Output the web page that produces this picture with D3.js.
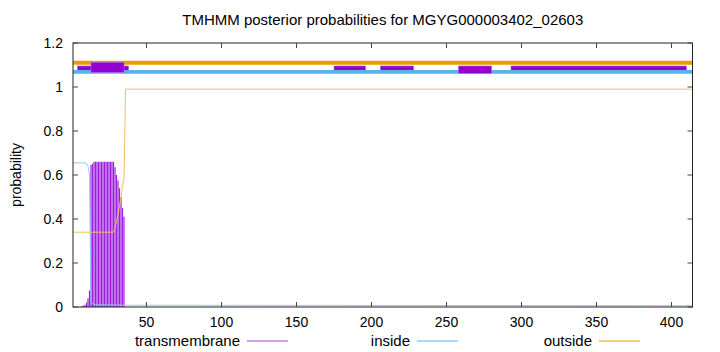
<!DOCTYPE html>
<html>
<head>
<meta charset="utf-8">
<script src="https://cdn.jsdelivr.net/npm/d3@7"></script>
<style>
  body { margin: 0; background: #fff; }
  text { font-family: "Liberation Sans", Arial, sans-serif; fill: #000; }
</style>
</head>
<body>
<svg id="chart" width="720" height="352"></svg>
<script>
// sequence length and axis ticks
var seqStart = 1, seqEnd = 414
var xTicks = [50, 100, 150, 200, 250, 300, 350, 400]
var yTicks = [0, 0.2, 0.4, 0.6, 0.8, 1, 1.2]

// posterior probabilities (residue, value)
var insidePts = [[1,0.655],[9,0.655],[10,0.652],[11,0.64],[12,0.6],[13,0.02],[14,0.016],[16,0.01],[40,0.008],[414,0.006]]
var outsidePts = [[1,0.34],[28,0.34],[29,0.36],[30,0.39],[31,0.42],[32,0.46],[33,0.5],[34,0.55],[35,0.585],[36,0.99],[414,0.99]]

// transmembrane probability per residue, from residue 7
var tmFirst = 7
var tmValues = [0.003,0.006,0.01,0.02,0.04,0.075,0.645,0.65,0.66,0.66,0.66,0.66,0.66,0.66,0.66,0.66,0.66,0.66,0.66,0.66,0.66,0.66,0.635,0.6,0.575,0.54,0.5,0.45,0.41]

// predicted topology strip at the top
var outsideSegs = [[1,414]]
var insideSegs = [[1,414]]
var tmBoxes = [[4,38],[175,196],[206,228],[293,410]]
var tmBoxesWide = [[258,280]]
var tmBoxesTall = [[13,35]]

var legendItems = [
  {label: "transmembrane", color: "#a040d8"},
  {label: "inside", color: "#56b4e9"},
  {label: "outside", color: "#e69f00"}
]

var margin = {top: 43, right: 27.5, bottom: 45, left: 73}
var width = 720 - margin.left - margin.right
var height = 352 - margin.top - margin.bottom

var svg = d3.select("#chart")
var g = svg.append("g").attr("transform", "translate(" + margin.left + "," + margin.top + ")")

var x = d3.scaleLinear().domain([seqStart, seqEnd]).range([0, width])
var y = d3.scaleLinear().domain([0, 1.2]).range([height, 0])

// title
svg.append("text")
  .attr("x", margin.left + width / 2)
  .attr("y", 25)
  .attr("text-anchor", "middle")
  .style("font-size", "15px")
  .text("TMHMM posterior probabilities for MGYG000003402_02603")

// y label
svg.append("text")
  .attr("transform", "translate(21," + (margin.top + height / 2) + ")rotate(-90)")
  .attr("text-anchor", "middle")
  .style("font-size", "14px")
  .text("probability")

// top strip
outsideSegs.forEach(function(s) {
  g.append("line")
    .attr("x1", x(s[0])).attr("x2", x(s[1]))
    .attr("y1", y(1.11)).attr("y2", y(1.11))
    .attr("stroke", "#e69f00").attr("stroke-width", 4)
})
tmBoxes.forEach(function(s) {
  g.append("rect")
    .attr("x", x(s[0])).attr("width", x(s[1]) - x(s[0]))
    .attr("y", y(1.0955)).attr("height", y(1.0727) - y(1.0955))
    .attr("fill", "#9400d3").attr("stroke", "#b060e0").attr("stroke-width", 0.6)
})
insideSegs.forEach(function(s) {
  g.append("line")
    .attr("x1", x(s[0])).attr("x2", x(s[1]))
    .attr("y1", y(1.069)).attr("y2", y(1.069))
    .attr("stroke", "#56b4e9").attr("stroke-width", 3.7)
})
tmBoxesWide.forEach(function(s) {
  g.append("rect")
    .attr("x", x(s[0])).attr("width", x(s[1]) - x(s[0]))
    .attr("y", y(1.0955)).attr("height", y(1.0623) - y(1.0955))
    .attr("fill", "#9400d3").attr("stroke", "#b060e0").attr("stroke-width", 0.6)
})
tmBoxesTall.forEach(function(s) {
  g.append("rect")
    .attr("x", x(s[0])).attr("width", x(s[1]) - x(s[0]))
    .attr("y", y(1.1123)).attr("height", y(1.0668) - y(1.1123))
    .attr("fill", "#9400d3").attr("stroke", "#b060e0").attr("stroke-width", 0.6)
})

// transmembrane impulses
g.selectAll(".tm")
  .data(tmValues)
  .enter()
  .append("line")
  .attr("class", "tm")
  .attr("x1", (d, i) => x(tmFirst + i))
  .attr("x2", (d, i) => x(tmFirst + i))
  .attr("y1", y(0))
  .attr("y2", d => y(d))
  .attr("stroke", "#9d1ee0")
  .attr("stroke-width", 1.2)

var line = d3.line().x(d => x(d[0])).y(d => y(d[1]))

g.append("path").datum(insidePts)
  .attr("d", line).attr("fill", "none")
  .attr("stroke", "#8fcdf0").attr("stroke-width", 1)

g.append("path").datum(outsidePts)
  .attr("d", line).attr("fill", "none")
  .attr("stroke", "#f0c060").attr("stroke-width", 1)

// border + ticks
g.append("rect")
  .attr("x", 0).attr("y", 0).attr("width", width).attr("height", height)
  .attr("fill", "none").attr("stroke", "#222").attr("stroke-width", 1)

xTicks.forEach(function(t) {
  g.append("line").attr("x1", x(t)).attr("x2", x(t)).attr("y1", height).attr("y2", height - 5).attr("stroke", "#444")
  g.append("line").attr("x1", x(t)).attr("x2", x(t)).attr("y1", 0).attr("y2", 5).attr("stroke", "#444")
  g.append("text")
    .attr("x", x(t)).attr("y", height + 20)
    .attr("text-anchor", "middle")
    .style("font-size", "14px")
    .text(t)
})
yTicks.forEach(function(t) {
  g.append("line").attr("x1", 0).attr("x2", 5).attr("y1", y(t)).attr("y2", y(t)).attr("stroke", "#444")
  g.append("line").attr("x1", width).attr("x2", width - 5).attr("y1", y(t)).attr("y2", y(t)).attr("stroke", "#444")
  g.append("text")
    .attr("x", -10).attr("y", y(t) + 5)
    .attr("text-anchor", "end")
    .style("font-size", "14px")
    .text(t)
})

// legend
var legendX = [240, 410, 592]
legendItems.forEach(function(d, i) {
  var lg = svg.append("g").attr("transform", "translate(" + legendX[i] + ",341)")
  lg.append("text").attr("x", 0).attr("y", 5).attr("text-anchor", "end").style("font-size", "15px").text(d.label)
  lg.append("line").attr("x1", 7).attr("x2", 48).attr("y1", 0).attr("y2", 0)
    .attr("stroke", d.color).attr("stroke-width", 1)
})
</script>
</body>
</html>
